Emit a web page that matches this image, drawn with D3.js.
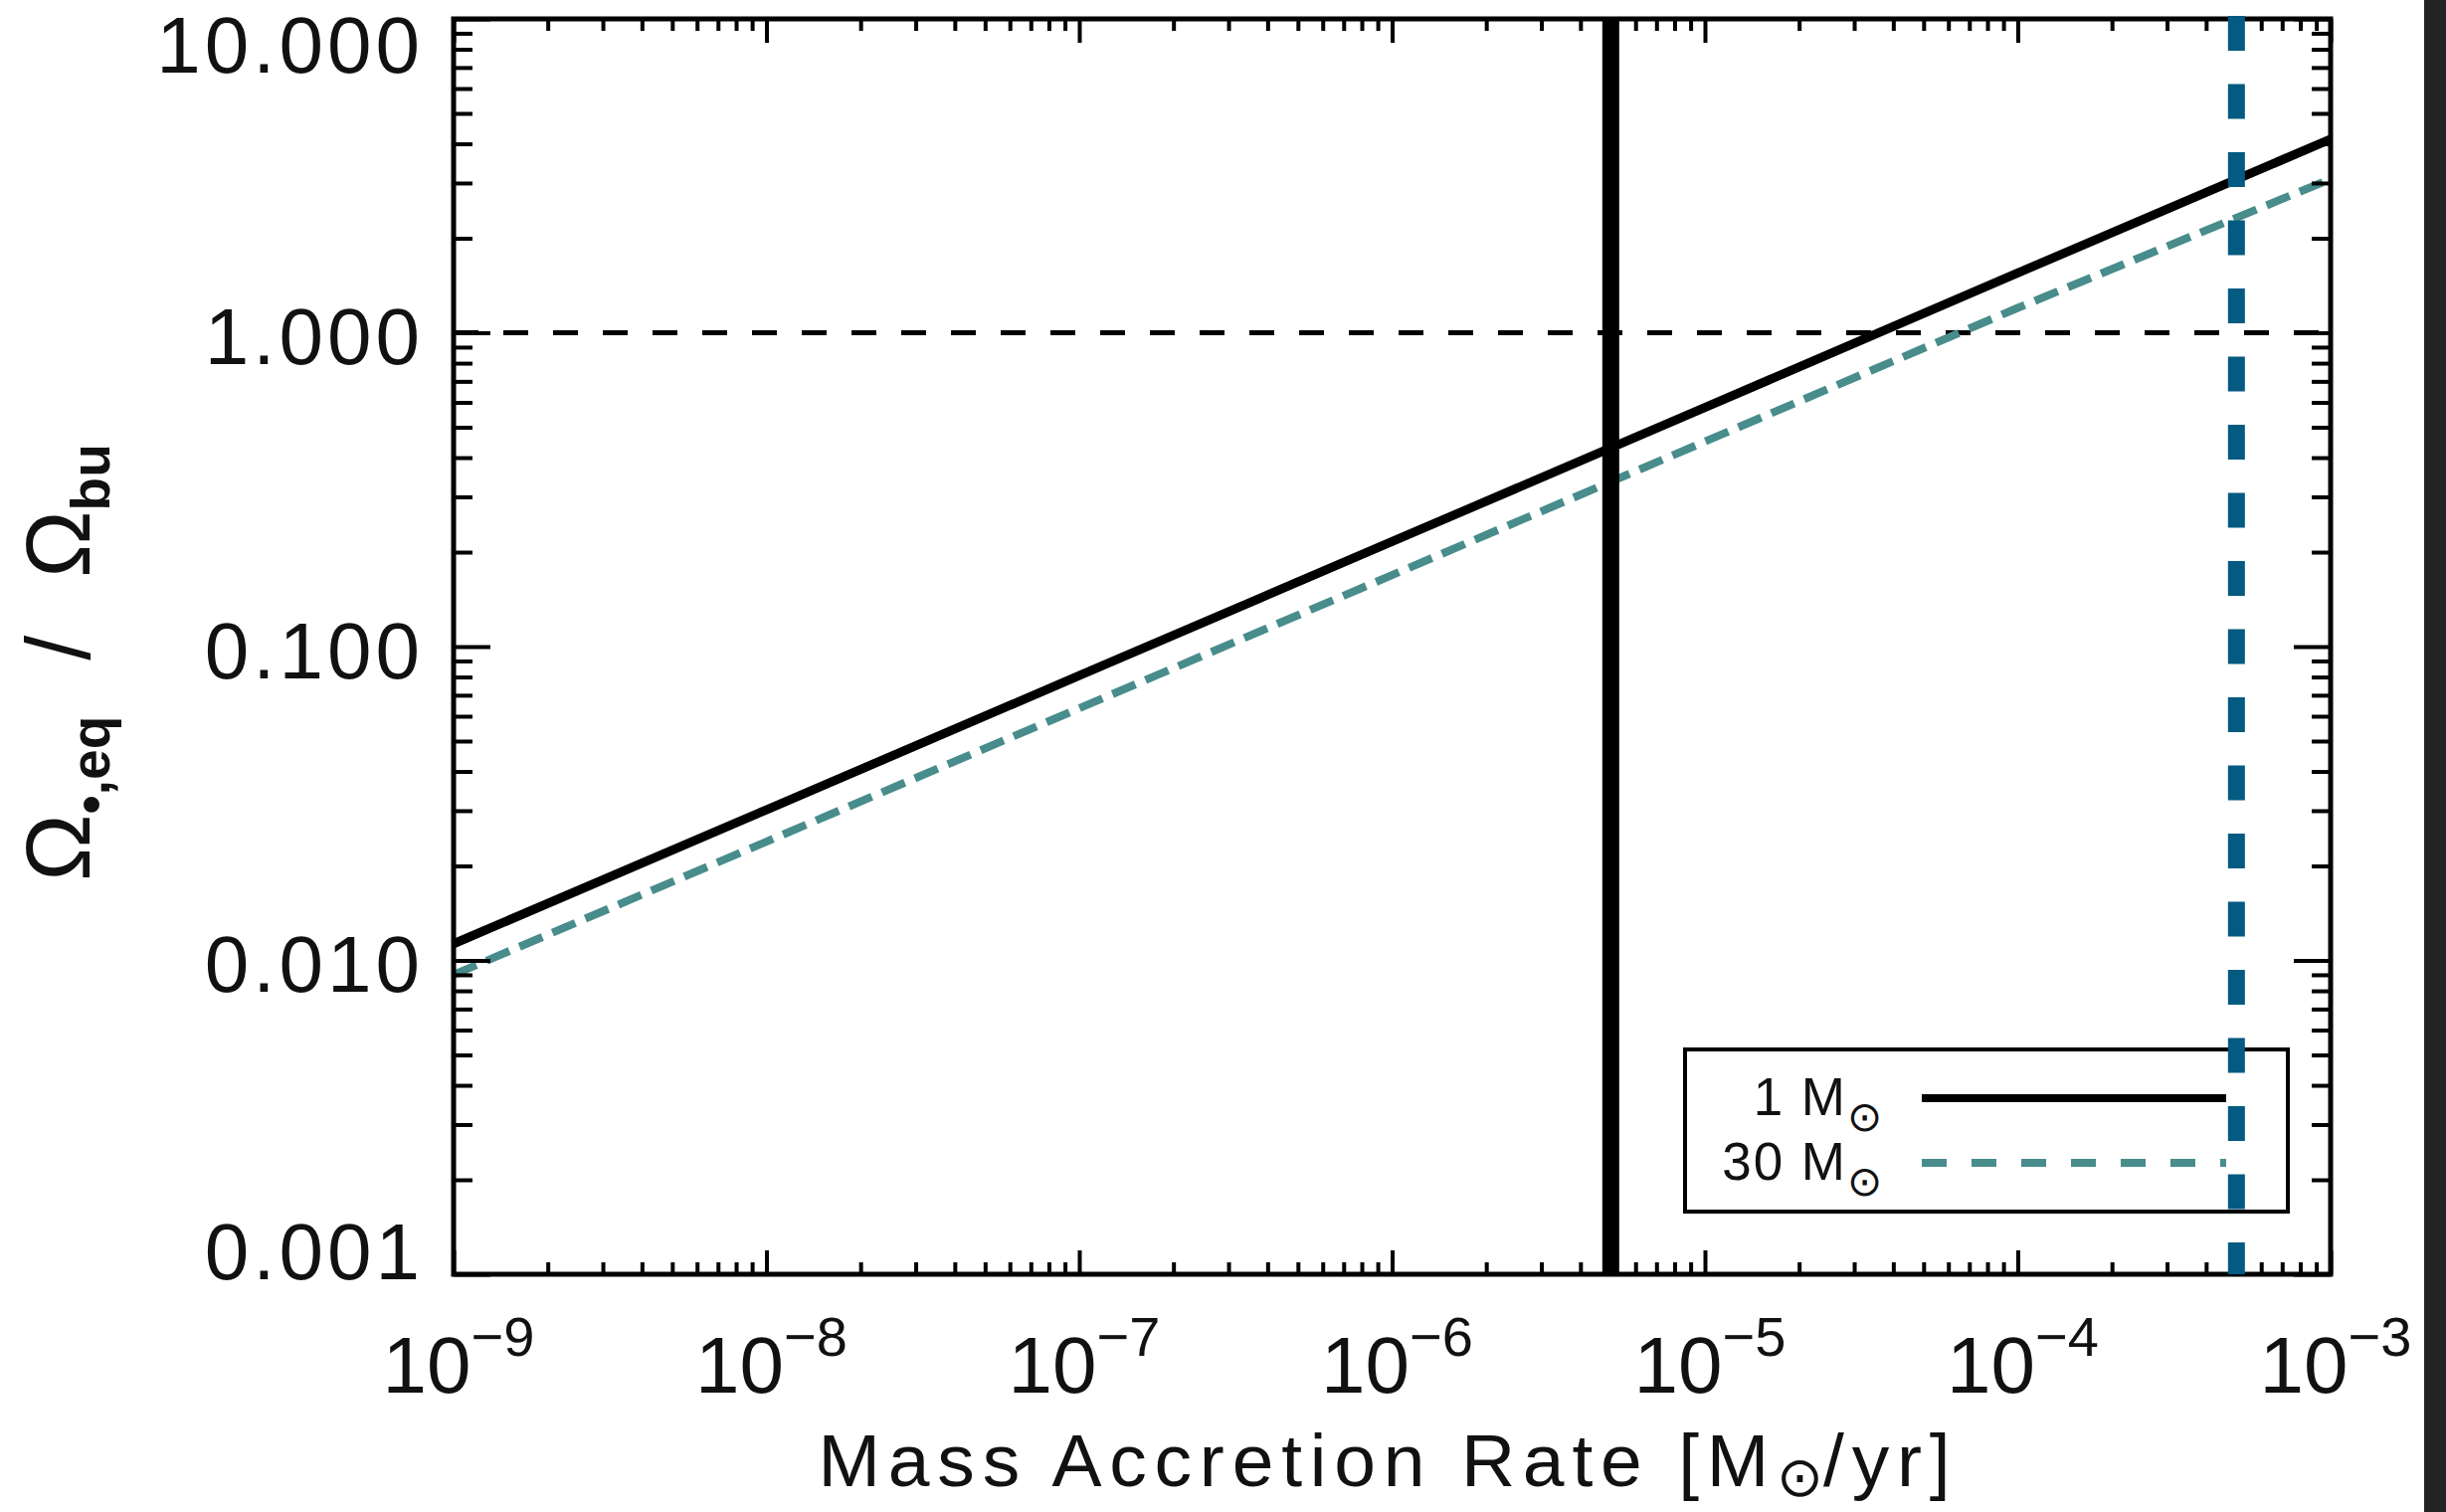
<!DOCTYPE html>
<html>
<head>
<meta charset="utf-8">
<script src="https://cdn.jsdelivr.net/npm/d3@7"></script>
<style>
  html, body { margin: 0; padding: 0; background: #ffffff; }
  svg { display: block; }
  text { font-family: "Liberation Sans", Arial, sans-serif; fill: #111; }
</style>
</head>
<body>
<svg id="chart" width="2459" height="1520"></svg>
<script>
// ---- data ----
const massRate      = [1e-9, 1e-8, 1e-7, 1e-6, 1e-5, 1e-4, 1e-3];           // M_sun / yr
const ratio1Msun    = [0.0113, 0.0302, 0.0808, 0.216, 0.578, 1.55, 4.14];    // Omega_eq / Omega_bu, 1 M_sun
const ratio30Msun   = [0.0090, 0.0239, 0.0636, 0.169, 0.450, 1.20, 3.09];    // Omega_eq / Omega_bu, 30 M_sun
const seriesNames   = ["1", "30"];
const solidMarkerX  = [5e-6];
const dashedMarkerX = [5e-4];
const unityLineY    = [1];
const xTickValues   = [1e-9, 1e-8, 1e-7, 1e-6, 1e-5, 1e-4, 1e-3];
const xTickExps     = ["\u22129", "\u22128", "\u22127", "\u22126", "\u22125", "\u22124", "\u22123"];
const yTickValues   = [0.001, 0.01, 0.1, 1, 10];
const yTickLabels   = ["0.001", "0.010", "0.100", "1.000", "10.000"];

// ---- layout ----
const W = 2459, H = 1520;
const L = 456, R = 2343, T = 19, B = 1281;
const svg = d3.select("#chart");
svg.append("rect").attr("x", 0).attr("y", 0).attr("width", W).attr("height", H).attr("fill", "#fff");
svg.append("rect").attr("x", 2437).attr("y", 0).attr("width", W - 2437).attr("height", H).attr("fill", "#232323");

const x = d3.scaleLog().domain([1e-9, 1e-3]).range([L, R]);
const y = d3.scaleLog().domain([1e-3, 10]).range([B, T]);

const teal = "#488c8c", blue = "#045a80";

svg.append("clipPath").attr("id", "plotclip").append("rect")
  .attr("x", L).attr("y", T).attr("width", R - L).attr("height", B - T);
const plot = svg.append("g").attr("clip-path", "url(#plotclip)");

// unity horizontal dashed line
plot.selectAll("line.unity").data(unityLineY).enter().append("line")
  .attr("x1", x.range()[0]).attr("x2", x.range()[1])
  .attr("y1", d => y(d)).attr("y2", d => y(d))
  .attr("stroke", "#000").attr("stroke-width", 5).attr("stroke-dasharray", "25,25");

// series lines
const pts1 = massRate.map((m, i) => ({ x: m, y: ratio1Msun[i] }));
const pts30 = massRate.map((m, i) => ({ x: m, y: ratio30Msun[i] }));
const line = d3.line().x(d => x(d.x)).y(d => y(d.y));

plot.append("path").datum(pts30).attr("d", line)
  .attr("fill", "none").attr("stroke", teal).attr("stroke-width", 8).attr("stroke-dasharray", "25,11");
plot.append("path").datum(pts1).attr("d", line)
  .attr("fill", "none").attr("stroke", "#000").attr("stroke-width", 9);

// solid vertical marker
plot.selectAll("line.vsolid").data(solidMarkerX).enter().append("line")
  .attr("x1", d => x(d)).attr("x2", d => x(d))
  .attr("y1", y.range()[0]).attr("y2", y.range()[1])
  .attr("stroke", "#000").attr("stroke-width", 17);

// ---- ticks (inward, all four sides) ----
function minorTicks(lo, hi) {
  const out = [];
  for (let e = lo; e < hi; e++) for (let m = 2; m <= 9; m++) out.push(m * Math.pow(10, e));
  return out;
}
const xMinor = minorTicks(-9, -3), yMinor = minorTicks(-3, 1);
function addAxis(axisGen, scale, vals, len, tx, ty) {
  const g = svg.append("g").attr("transform", `translate(${tx},${ty})`)
    .call(axisGen(scale).tickValues(vals).tickSizeInner(-len).tickSizeOuter(0).tickFormat(""));
  g.select(".domain").remove();
  g.selectAll(".tick line").attr("stroke", "#000").attr("stroke-width", 4);
}
addAxis(d3.axisBottom, x, xTickValues, 24, 0, B);
addAxis(d3.axisBottom, x, xMinor, 12, 0, B);
addAxis(d3.axisTop, x, xTickValues, 24, 0, T);
addAxis(d3.axisTop, x, xMinor, 12, 0, T);
addAxis(d3.axisLeft, y, yTickValues, 37, L, 0);
addAxis(d3.axisLeft, y, yMinor, 19, L, 0);
addAxis(d3.axisRight, y, yTickValues, 37, R, 0);
addAxis(d3.axisRight, y, yMinor, 19, R, 0);

// frame
svg.append("rect").attr("x", L).attr("y", T).attr("width", R - L).attr("height", B - T)
  .attr("fill", "none").attr("stroke", "#000").attr("stroke-width", 5);

// ---- tick labels ----
const capH = 57;
svg.selectAll("text.ylab").data(yTickValues).enter().append("text")
  .attr("class", "ylab")
  .attr("x", 426)
  .attr("y", d => Math.min(Math.max(y(d) + capH / 2 + 3, T + capH - 3), B + 5))
  .attr("text-anchor", "end").attr("font-size", 80).attr("letter-spacing", 4)
  .text((d, i) => yTickLabels[i]);

const xl = svg.selectAll("text.xlab").data(xTickValues).enter().append("text")
  .attr("class", "xlab")
  .attr("x", d => x(d) + 5).attr("y", 1400)
  .attr("text-anchor", "middle").attr("font-size", 80);
xl.append("tspan").text("10");
xl.append("tspan").attr("font-size", 56).attr("dy", -37).text((d, i) => xTickExps[i]);

// ---- axis titles ----
const xt = svg.append("text").attr("x", (L + R) / 2 - 4).attr("y", 1494)
  .attr("text-anchor", "middle").attr("font-size", 75).attr("letter-spacing", 7.8);
xt.append("tspan").text("Mass Accretion Rate [M");
xt.append("tspan").attr("font-size", 56).attr("dy", 10).attr("letter-spacing", 0).text("\u2299");
xt.append("tspan").attr("dy", -10).text("/yr]");

const yt = svg.append("text")
  .attr("transform", `translate(90,666) rotate(-90)`)
  .attr("text-anchor", "middle").attr("font-size", 90);
yt.append("tspan").text("\u03A9");
yt.append("tspan").attr("font-size", 55).attr("font-weight", "bold").attr("dy", 20).text("\u2022,eq");
yt.append("tspan").attr("dy", -20).attr("dx", 56).text("/");
yt.append("tspan").attr("dx", 58).text("\u03A9");
yt.append("tspan").attr("font-size", 55).attr("font-weight", "bold").attr("dy", 20).text("bu");

// ---- legend ----
const lg = svg.append("g");
lg.append("rect").attr("x", 1694).attr("y", 1055).attr("width", 606).attr("height", 163)
  .attr("fill", "#fff").attr("stroke", "#000").attr("stroke-width", 4);
const legendRows = [
  { name: seriesNames[0], color: "#000", dash: null, width: 8, yy: 1104 },
  { name: seriesNames[1], color: teal, dash: "25,25", width: 8, yy: 1169 }
];
legendRows.forEach(r => {
  lg.append("line").attr("x1", 1932).attr("x2", 2238).attr("y1", r.yy).attr("y2", r.yy)
    .attr("stroke", r.color).attr("stroke-width", r.width)
    .attr("stroke-dasharray", r.dash);
  const t = lg.append("text").attr("x", 1892).attr("y", r.yy + 17)
    .attr("text-anchor", "end").attr("font-size", 53).attr("fill", "#222").attr("letter-spacing", 2);
  t.append("tspan").text(r.name + "  M");
  t.append("tspan").attr("font-size", 42).attr("dy", 16).attr("letter-spacing", 0).text("\u2299");
});

// dashed blue vertical marker drawn on top
svg.selectAll("line.vdash").data(dashedMarkerX).enter().append("line")
  .attr("x1", d => x(d)).attr("x2", d => x(d))
  .attr("y1", y.range()[1] - 3).attr("y2", y.range()[0])
  .attr("stroke", blue).attr("stroke-width", 17).attr("stroke-dasharray", "35,33.5");
</script>
</body>
</html>
